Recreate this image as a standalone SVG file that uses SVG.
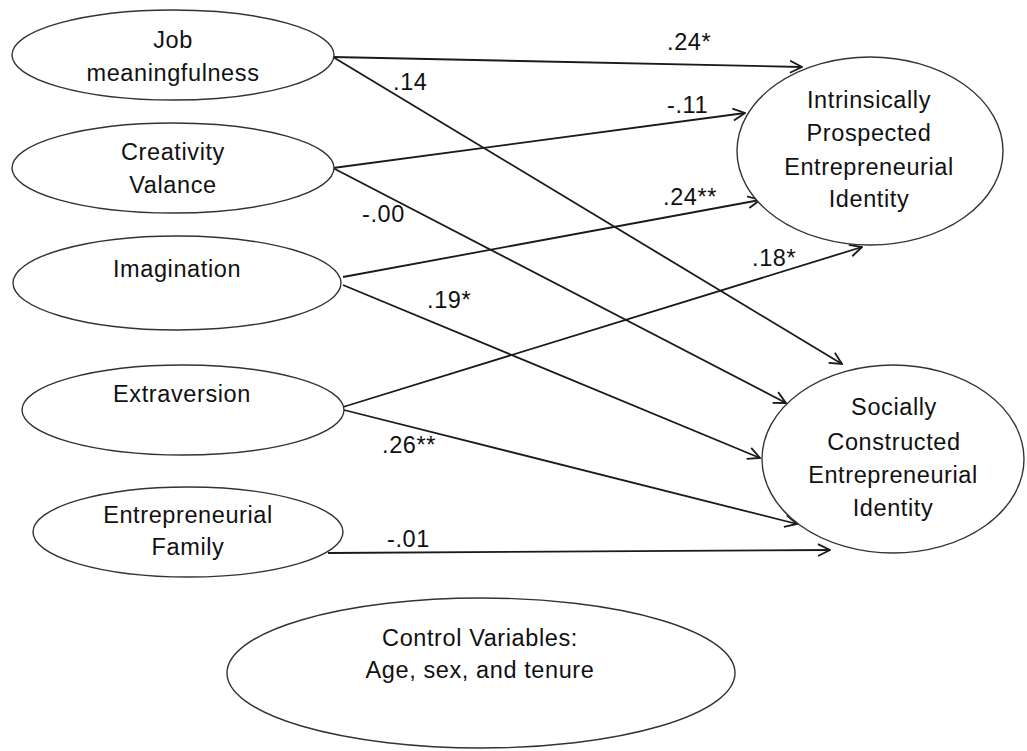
<svg xmlns="http://www.w3.org/2000/svg" width="1027" height="751" viewBox="0 0 1027 751">
<style>
.node ellipse{fill:#fff;stroke:#333;stroke-width:1.4}
text{font-family:"Liberation Sans",Arial,sans-serif;font-size:23.5px;fill:#111;text-anchor:middle;letter-spacing:0.6px}
.conn line{stroke:#1a1a1a;stroke-width:1.8;fill:none;marker-end:url(#arr)}
.lbl text{text-anchor:start}
</style>
<defs>
<marker id="arr" viewBox="0 0 14 14" refX="13" refY="7" markerWidth="14" markerHeight="14" markerUnits="userSpaceOnUse" orient="auto">
<path d="M1,1 L13,7 L1,13" fill="none" stroke="#1a1a1a" stroke-width="1.8"/>
</marker>
</defs>
<rect width="1027" height="751" fill="#fff"/>
<g id="connectors" class="conn">
<line x1="333" y1="57" x2="802" y2="67"/>
<line x1="333" y1="57" x2="842" y2="364"/>
<line x1="333" y1="168" x2="745" y2="113"/>
<line x1="333" y1="168" x2="786" y2="403"/>
<line x1="343" y1="277" x2="760" y2="200"/>
<line x1="343" y1="285" x2="760" y2="458"/>
<line x1="343" y1="407" x2="862" y2="247"/>
<line x1="344" y1="410" x2="797" y2="524"/>
<line x1="328" y1="553" x2="830" y2="550"/>
</g>
<g id="labels" class="lbl">
<text x="667" y="50">.24*</text>
<text x="667" y="113">-.11</text>
<text x="663" y="205">.24**</text>
<text x="752" y="266">.18*</text>
<text x="393" y="90">.14</text>
<text x="362" y="222">-.00</text>
<text x="427" y="308">.19*</text>
<text x="382" y="453">.26**</text>
<text x="387" y="547">-.01</text>
</g>
<g id="job" class="node">
<ellipse cx="173" cy="55" rx="161" ry="45"/>
<text x="173" y="48">Job</text>
<text x="173" y="81">meaningfulness</text>
</g>
<g id="creativity" class="node">
<ellipse cx="173" cy="168" rx="161" ry="45"/>
<text x="173" y="160">Creativity</text>
<text x="173" y="193">Valance</text>
</g>
<g id="imagination" class="node">
<ellipse cx="177" cy="283" rx="164" ry="47"/>
<text x="177" y="277">Imagination</text>
</g>
<g id="extraversion" class="node">
<ellipse cx="183" cy="410" rx="161" ry="45"/>
<text x="182" y="402">Extraversion</text>
</g>
<g id="family" class="node">
<ellipse cx="188" cy="532" rx="155" ry="45"/>
<text x="188" y="523">Entrepreneurial</text>
<text x="188" y="555">Family</text>
</g>
<g id="intrinsic" class="node">
<ellipse cx="870" cy="151" rx="133" ry="94"/>
<text x="869" y="108">Intrinsically</text>
<text x="869" y="141">Prospected</text>
<text x="869" y="175">Entrepreneurial</text>
<text x="869" y="207">Identity</text>
</g>
<g id="social" class="node">
<ellipse cx="893" cy="459" rx="131" ry="94"/>
<text x="894" y="415">Socially</text>
<text x="894" y="450">Constructed</text>
<text x="893" y="483">Entrepreneurial</text>
<text x="893" y="516">Identity</text>
</g>
<g id="control" class="node">
<ellipse cx="481" cy="673" rx="254" ry="75"/>
<text x="480" y="646">Control Variables:</text>
<text x="480" y="678">Age, sex, and tenure</text>
</g>
</svg>
